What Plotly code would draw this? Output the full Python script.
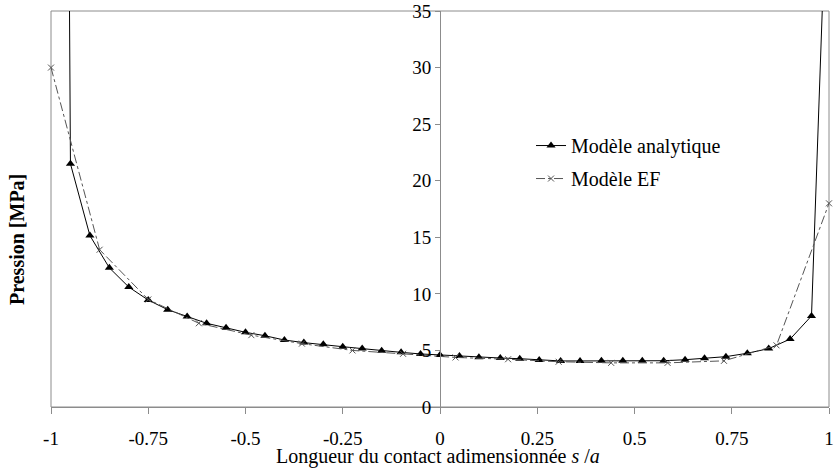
import plotly.graph_objects as go

# Analytic model (values beyond 35 are clipped by the axis range)
x_analytique = [-1.0, -0.95, -0.90, -0.85, -0.80, -0.75, -0.70, -0.65, -0.60, -0.55, -0.50,
                -0.45, -0.40, -0.35, -0.30, -0.25, -0.20, -0.15, -0.10, -0.05, 0.0,
                0.05, 0.10, 0.155, 0.205, 0.255, 0.31, 0.36, 0.415, 0.47, 0.52,
                0.575, 0.63, 0.68, 0.735, 0.79, 0.845, 0.90, 0.955, 1.0]
p_analytique = [300.0, 21.5, 15.15, 12.3, 10.6, 9.45, 8.6, 8.0, 7.4, 7.0, 6.6,
                6.3, 5.92, 5.69, 5.54, 5.33, 5.16, 4.98, 4.83, 4.69, 4.60,
                4.51, 4.39, 4.33, 4.27, 4.16, 4.07, 4.07, 4.09, 4.09, 4.09,
                4.09, 4.18, 4.30, 4.45, 4.75, 5.16, 6.0, 8.05, 52.0]

# Finite element model
x_ef = [-1.0, -0.875, -0.75, -0.62, -0.485, -0.355, -0.225, -0.095, 0.04, 0.175,
        0.305, 0.44, 0.585, 0.73, 0.865, 1.0]
p_ef = [30.0, 13.9, 9.5, 7.4, 6.35, 5.6, 5.0, 4.7, 4.38, 4.22,
        4.0, 3.9, 3.9, 4.08, 5.45, 18.0]

x_ticks = [-1, -0.75, -0.5, -0.25, 0, 0.25, 0.5, 0.75, 1]
x_ticklabels = ["-1", "-0.75", "-0.5", "-0.25", "0", "0.25", "0.5", "0.75", "1"]
y_ticks = [0, 5, 10, 15, 20, 25, 30, 35]

FONT = "Liberation Serif"
GRAY = "#8c8c8c"

fig = go.Figure()
fig.add_trace(go.Scatter(
    x=x_analytique, y=p_analytique, mode="lines+markers", name="Modèle analytique",
    legendgroup="a",
    line=dict(color="black", width=1),
    marker=dict(symbol="triangle-up", size=8, color="black"),
))
fig.add_trace(go.Scatter(
    x=x_ef, y=p_ef, mode="lines+markers", name="Modèle EF",
    legendgroup="b", cliponaxis=False,
    line=dict(color="#555555", width=1, dash="dashdot"),
    marker=dict(symbol="x-thin", size=6, color="#555555", line=dict(width=1, color="#555555")),
))

fig.update_layout(
    width=835, height=468,
    margin=dict(l=51, r=6, t=11, b=61, autoexpand=False),
    paper_bgcolor="white", plot_bgcolor="white",
    font=dict(family=FONT, size=19, color="black"),
    showlegend=True,
    legend=dict(x=0.617, y=0.7095, xanchor="left", yanchor="top",
                bgcolor="rgba(0,0,0,0)", font=dict(family=FONT, size=20),
                traceorder="grouped", tracegroupgap=4, itemwidth=30),
    xaxis=dict(range=[-1, 1], tickvals=x_ticks, ticktext=x_ticklabels,
               ticks="outside", ticklen=6, tickcolor=GRAY, showline=True,
               linecolor=GRAY, linewidth=1, showgrid=False, zeroline=False,
               automargin=False, ticklabelstandoff=8, ticklabeloverflow="allow",
               tickfont=dict(family=FONT, size=19)),
    yaxis=dict(range=[0, 35], tickvals=y_ticks, ticks="outside", ticklen=5,
               tickcolor=GRAY, showline=True, linecolor=GRAY, linewidth=1,
               showgrid=False, zeroline=False, anchor="free", position=0.5,
               automargin=False, ticklabeloverflow="allow",
               tickfont=dict(family=FONT, size=19)),
    shapes=[dict(type="rect", xref="paper", yref="paper", x0=0, x1=1, y0=0, y1=1,
                 line=dict(color=GRAY, width=1), layer="below")],
    annotations=[
        dict(text="<b>Pression [MPa]</b>", textangle=-90, xref="paper", yref="paper",
             x=-0.0437, y=0.4217, xanchor="center", yanchor="middle", showarrow=False,
             font=dict(family=FONT, size=20)),
        dict(text="Longueur du contact adimensionnée <i>s</i> /<i>a</i>", xref="paper",
             yref="paper", x=0.497, y=-0.126, xanchor="center", yanchor="middle",
             showarrow=False, font=dict(family=FONT, size=20)),
    ],
)

fig.write_html("out.html", config={"displayModeBar": False},
               post_script="document.body.style.margin='0';")
